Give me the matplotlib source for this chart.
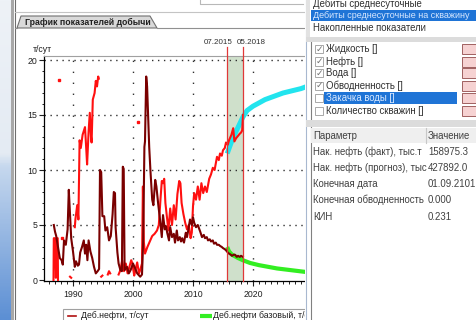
import numpy as np
import matplotlib
matplotlib.use("Agg")
import matplotlib.pyplot as plt
from matplotlib.patches import Rectangle, Polygon
from matplotlib.lines import Line2D
from matplotlib.colors import LinearSegmentedColormap

plt.rcParams['font.family'] = ['Liberation Sans', 'DejaVu Sans']

# ---------------- data ----------------
oil_years = [
    1986.8, 1987.0, 1987.2, 1987.5, 1987.8, 1988.1, 1988.3, 1988.5, 1988.8, 1989.1,
    1989.3, 1989.5, 1989.7, 1990.0, 1990.3, 1990.5, 1990.8, 1991.0, 1991.2, 1991.5,
    1991.8, 1992.0, 1992.2, 1992.4, 1992.6, 1992.9, 1993.2, 1993.5, 1993.8, 1994.1,
    1994.35, 1994.5, 1994.7, 1994.9, 1995.2, 1995.4, 1995.7, 1996.0, 1996.3, 1996.6,
    1996.8, 1997.0, 1997.1, 1997.4, 1997.6, 1997.9, 1998.15, 1998.3, 1998.45, 1998.6,
    1999.0, 1999.3, 1999.6, 2000.0, 2000.4, 2000.7, 2001.2, 2001.5, 2001.7, 2001.9,
    2002.0, 2002.2, 2002.35, 2002.7, 2002.9, 2003.2, 2003.4, 2003.7, 2003.9, 2004.2,
    2004.5, 2004.8, 2005.0, 2005.3, 2005.5, 2005.7, 2006.0, 2006.2, 2006.5, 2006.8,
    2007.0, 2007.3, 2007.5, 2007.8, 2008.0, 2008.2, 2008.5, 2008.8, 2009.0, 2009.2,
    2009.5, 2009.8, 2010.0, 2010.2, 2010.5, 2010.8, 2011.2, 2011.5, 2011.8, 2012.0,
    2012.3, 2012.5, 2012.8, 2013.0, 2013.3, 2013.5, 2013.8, 2014.0, 2014.3, 2014.5,
    2014.8, 2015.0, 2015.3, 2015.5, 2015.8, 2016.0, 2016.3, 2016.5, 2016.8, 2017.0,
    2017.3, 2017.5, 2017.8, 2018.0, 2018.3]
oil_rate = [
    5.0, 4.4, 4.0, 3.0, 2.0, 1.8, 1.4, 3.6, 3.2, 4.6,
    8.2, 6.0, 3.8, 2.6, 1.2, 1.7, 1.3, 1.4, 2.5, 3.0,
    3.6, 2.4, 3.2, 1.8, 3.6, 2.6, 2.0, 1.2, 0.6, 0.8,
    1.0, 10.0, 9.8, 5.8, 5.8, 4.5, 4.8, 3.6, 4.0, 6.0,
    8.0, 7.9, 4.8, 2.5, 1.5, 0.9, 0.8, 10.3, 10.1, 0.9,
    1.2, 0.6, 0.9, 1.5, 1.0, 0.6, 0.3, 0.5, 3.6, 12.1,
    12.6, 18.5, 17.6, 12.1, 10.0, 7.3, 6.8, 9.1, 8.5, 6.9,
    5.5, 3.9, 5.9, 4.6, 4.9, 4.3, 3.6, 4.8, 3.9, 4.2,
    3.4, 4.5, 3.6, 3.9, 3.5, 3.8, 3.4, 4.3, 3.9, 4.5,
    5.5, 5.0, 5.7, 5.2, 4.8, 5.0, 4.4, 3.9, 4.1, 3.8,
    3.9, 3.6, 3.7, 3.5, 3.6, 3.3, 3.4, 3.2, 3.2, 3.1,
    3.0, 2.9, 2.8, 2.7, 2.5, 2.4, 2.3, 2.2, 2.3, 2.3,
    2.1, 2.2, 2.1, 2.2, 2.1]

nan = np.nan
liq_years = [
    1986.75, 1986.8, 1987.0, 1987.15, 1987.3, 1987.45, 1987.5, 1988.0, 1989.5, 1989.7,
    1989.9, 1990.3, 1990.4, 1990.7, 1990.9, 1991.1, 1991.3, 1991.6, 1992.0, 1992.2,
    1992.35, 1992.6, 1992.8, 1993.0, 1993.1, 1993.3, 1993.6, 1993.8, 1994.0, 1994.2,
    1994.3, 1994.5, 1994.7, 1994.9, 1995.2, 1995.8, 1996.0, 1996.2, 1996.5, 1997.6,
    1997.9, 1998.2, 1998.5, 1998.8, 1999.1, 1999.4, 1999.7, 1999.9, 2000.2, 2000.4,
    2000.7, 2001.0, 2001.2, 2001.5, 2001.65, 2001.8, 2002.0, 2002.4, 2002.8, 2003.2,
    2003.6, 2004.0, 2004.3, 2004.6, 2004.8, 2005.0, 2005.2, 2005.4, 2005.6, 2005.9,
    2006.2, 2006.5, 2006.8, 2007.1, 2007.4, 2007.7, 2007.9, 2008.1, 2008.4, 2008.7,
    2009.0, 2009.3, 2009.6, 2009.8, 2010.0, 2010.2, 2010.5, 2010.8, 2011.1, 2011.4,
    2011.7, 2012.0, 2012.3, 2012.7, 2013.0, 2013.3, 2013.6, 2014.0, 2014.3, 2014.5,
    2014.8, 2015.0, 2015.3, 2015.5, 2015.8, 2016.0, 2016.4, 2016.7, 2016.9, 2017.2,
    2017.5, 2017.8, 2018.0, 2018.2, 2018.33]
liq_rate = [
    0.0, 3.8, 3.8, 0.2, 3.8, 3.8, 0.0, nan, 0.3, 0.2,
    nan, 4.8, 5.5, 6.8, 5.5, 12.7, 12.0, 13.2, 13.9, 12.0,
    10.5, 13.5, 15.2, 13.0, 12.5, 16.4, 17.0, 18.1, 17.6, 18.5,
    18.3, nan, 0.3, 0.4, nan, 0.5, 0.8, 0.6, nan, 0.5,
    0.9, 1.8, 0.8, 1.5, 0.6, 1.2, 1.8, 1.5, 0.4, 0.9,
    1.6, 0.6, 0.9, 1.5, 8.5, 3.5, 2.4, 3.0, 3.5, 4.0,
    4.2, 4.5, 5.0, 7.5, 9.0, 8.8, 9.2, 7.0, 6.0, 4.5,
    6.5, 5.0, 6.8, 5.5, 7.8, 9.0, 8.8, 7.0, 6.0, 5.2,
    4.6, 5.0, 3.8, 4.3, 6.7, 7.9, 7.3, 8.5, 7.3, 8.8,
    7.9, 8.5, 8.0, 9.2, 9.6, 10.2, 10.0, 11.2, 10.9, 11.5,
    11.3, 11.8, 12.0, 12.5, 12.3, 12.7, 13.2, 13.8, 12.6, 12.9,
    13.1, 13.3, 13.4, 13.6, 15.0]

liq_dot_years = [1987.7, 1988.2, 2000.8]
liq_dot_rate = [18.2, 3.8, 14.4]

fc_liq_years = [2015.7, 2016.3, 2017.0, 2017.7, 2018.3, 2019.0, 2020.0,
                2021.0, 2022.0, 2023.5, 2025.0, 2026.5, 2028.0, 2029.0]
fc_liq_rate = [11.5, 12.4, 13.3, 14.1, 14.8, 15.4, 15.8,
               16.1, 16.4, 16.7, 17.0, 17.2, 17.4, 17.6]
fc_oil_years = [2015.7, 2016.0, 2016.5, 2017.0, 2017.5, 2018.3, 2019.5,
                2021.0, 2022.5, 2024.0, 2025.5, 2027.0, 2028.5, 2029.0]
fc_oil_rate = [3.0, 2.6, 2.3, 2.15, 2.0, 1.8, 1.55,
               1.35, 1.2, 1.05, 0.95, 0.85, 0.75, 0.72]

x_major = [1990, 2000, 2010, 2020]
x_labels = ["1990", "2000", "2010", "2020"]
y_major = [0, 5, 10, 15, 20]
period_dates = [2015.67, 2018.33]
period_labels = ["07.2015", "05.2018"]

legend_labels = ["Деб.нефти, т/сут", "Деб.нефти базовый, т/сут"]
tab_title = "График показателей добычи"
y_unit = "т/сут"
mode_items = ["Дебиты среднесуточные", "Дебиты среднесуточные на скважину",
              "Накопленные показатели"]
check_items = ["Жидкость []", "Нефть []", "Вода []", "Обводненность []",
               "Закачка воды []", "Количество скважин []"]
check_state = [True, True, True, True, False, False]
table_header = ["Параметр", "Значение"]
table_names = ["Нак. нефть (факт), тыс.т", "Нак. нефть (прогноз), тыс",
               "Конечная дата", "Конечная обводненность", "КИН"]
table_values = ["158975.3", "427892.0", "01.09.2101", "0.000", "0.231"]

# ---------------- figure ----------------
W, H = 476, 320
fig = plt.figure(figsize=(W / 100, H / 100), dpi=100)
fig.patch.set_facecolor("white")


def fx(x):
    return x / W


def fy(y):
    return 1 - y / H


def frect(x0, y0, x1, y1, **kw):
    r = Rectangle((fx(x0), fy(y1)), fx(x1) - fx(x0), fy(y0) - fy(y1),
                  transform=fig.transFigure, **kw)
    fig.add_artist(r)
    return r


def fline(xs, ys, **kw):
    l = Line2D([fx(v) for v in xs], [fy(v) for v in ys],
               transform=fig.transFigure, **kw)
    fig.add_artist(l)
    return l


def ftext(x, y, s, **kw):
    kw.setdefault("va", "center")
    return fig.text(fx(x), fy(y), s, **kw)


# left desktop gradient
gax = fig.add_axes([0, 0, fx(11), 1])
grad = np.linspace(0, 1, 200)[:, None]
cmap = LinearSegmentedColormap.from_list(
    "g", [(0, "#eef2f7"), (0.48, "#e4ebf3"), (0.52, "#c6d8ee"), (1, "#5c8fd4")])
gax.imshow(grad, aspect="auto", cmap=cmap, extent=[0, 1, 0, 1], origin="upper")
gax.set_axis_off()

frect(11, 0, 14, 320, facecolor="#a8a8a8", edgecolor="none", zorder=1)
fline([14.5, 14.5], [0, 320], color="#6e6e6e", lw=0.8, zorder=1.1)

# top area and tab
fline([15, 305], [12, 12], color="#c4c4c4", lw=0.8, zorder=1.1)
fline([200, 200, 303], [0, 4, 4], color="#b8b8b8", lw=0.8, zorder=1.1)
tab = Polygon([(fx(17), fy(28)), (fx(21), fy(16)), (fx(150), fy(16)), (fx(157), fy(28))],
              closed=True, transform=fig.transFigure, facecolor="#d9d9d9",
              edgecolor="#707070", lw=0.8, zorder=1.2)
fig.add_artist(tab)
fline([157, 305], [28, 28], color="#909090", lw=0.8, zorder=1.2)
fline([15, 17], [28, 28], color="#909090", lw=0.8, zorder=1.2)
ftext(25, 22.5, tab_title, fontsize=6.3, fontweight="bold", color="#202020", zorder=1.3)

# ---------------- chart ----------------
x_left, x_right = 1990 + (44 - 73) / 6, 1990 + (305 - 73) / 6
ax = fig.add_axes([fx(44), fy(281), fx(305) - fx(44), (281 - 56) / H])
ax.set_xlim(x_left, x_right)
ax.set_ylim(-1 / 11, (280 - 56) / 11)
ax.set_facecolor("none")

ax.axvspan(period_dates[0], period_dates[1], color="#cfe0cb", zorder=0.5, lw=0)

for xv in x_major:
    ax.axvline(xv, color="#303030", lw=1.0, dashes=(1.0, 6.9), zorder=0.8)
for yv in y_major[1:]:
    ax.axhline(yv, color="#303030", lw=1.0, dashes=(1.0, 3.3), zorder=0.8)

ax.plot(liq_years, liq_rate, color="#ff1010", lw=1.5, zorder=3)
ax.plot(liq_dot_years, liq_dot_rate, color="#ff1010", marker="s", ms=1.8,
        linestyle="none", zorder=3)
ax.plot(oil_years, oil_rate, color="#7a0000", lw=1.5, zorder=3.2)
ax.plot(fc_liq_years, fc_liq_rate, color="#22e4ee", lw=3.6,
        solid_capstyle="butt", zorder=2.5)
ax.plot(fc_oil_years, fc_oil_rate, color="#33ee22", lw=3.0,
        solid_capstyle="butt", zorder=2.5)

ext = (281 - 47) / 225
for d in period_dates:
    ax.axvline(d, ymin=0, ymax=ext, color="#e03838", lw=0.9, clip_on=False, zorder=4)
ax.text(period_dates[0] + 0.95, (281 - 42) / 225, period_labels[0],
        transform=ax.get_xaxis_transform(), ha="right", va="center",
        fontsize=5.8, color="#303030")
ax.text(period_dates[1] - 1.05, (281 - 42) / 225, period_labels[1],
        transform=ax.get_xaxis_transform(), ha="left", va="center",
        fontsize=5.8, color="#303030")

ax.set_xticks(x_major)
ax.set_xticklabels(x_labels)
ax.set_xticks(np.arange(1986, 2029), minor=True)
ax.set_yticks(y_major)
ax.set_yticks(np.arange(0, 21), minor=True)
ax.tick_params(axis="both", which="major", direction="out", length=3.5, width=0.8,
               labelsize=6.3, pad=1.5, colors="#202020")
ax.tick_params(axis="both", which="minor", direction="out", length=1.8, width=0.7,
               colors="#202020")
ax.tick_params(axis="x", which="major", pad=3)
ax.spines["right"].set_visible(False)
ax.spines["top"].set_color("#a0a0a0")
ax.spines["top"].set_linewidth(0.8)
ax.spines["left"].set_linewidth(0.9)
ax.spines["bottom"].set_linewidth(0.9)

ftext(33, 50, y_unit, fontsize=6.3, color="#202020")

# legend box
frect(63, 309, 330, 330, facecolor="white", edgecolor="#a0a0a0", lw=0.8, zorder=3)
fline([68, 76], [316, 316], color="#b01010", lw=1.2, zorder=3.5)
ftext(81, 316, legend_labels[0], fontsize=6.3, color="#202020", zorder=3.5)
fline([200, 212], [316, 316], color="#33ee22", lw=3.0, zorder=3.5, solid_capstyle="butt")
ftext(213, 316, legend_labels[1], fontsize=6.3, color="#202020", zorder=3.5)

# ---------------- right panel ----------------
PFS = 6.9
frect(305, 0, 476, 320, facecolor="white", edgecolor="none", zorder=5)
fline([305.5, 305.5], [0, 320], color="#a8b8d0", lw=0.8, zorder=5.1)
frect(306, 0, 310, 40, facecolor="#e2e2e2", edgecolor="none", zorder=5.1)
fline([310.5, 310.5], [40, 320], color="#808080", lw=0.8, zorder=5.2)

# top list
frect(311, 10, 476, 21, facecolor="#1f74d6", edgecolor="none", zorder=5.2)
ftext(313, 4, mode_items[0], fontsize=PFS, color="#303030", zorder=5.3)
ftext(313, 15.5, mode_items[1], fontsize=6.5, color="#d8e8ff", zorder=5.3)
ftext(313, 28, mode_items[2], fontsize=PFS, color="#303030", zorder=5.3)
frect(306, 37, 476, 42, facecolor="#dcdcdc", edgecolor="none", zorder=5.2)

# check list
rows_y = [49, 61.5, 73, 85.5, 98, 110.5]
for i, (lab, chk, yy) in enumerate(zip(check_items, check_state, rows_y)):
    if i == 4:
        frect(324, yy - 5.5, 457, yy + 5.5, facecolor="#1f74d6", edgecolor="none", zorder=5.2)
        col = "#d8e8ff"
    else:
        col = "#303030"
    frect(315, yy - 4, 323, yy + 4, facecolor="white", edgecolor="#9a9a9a", lw=0.6, zorder=5.3)
    if chk:
        ftext(319, yy, "✓", fontsize=6.5, family="DejaVu Sans", color="#707070",
              ha="center", zorder=5.4)
    ftext(325.5, yy, lab, fontsize=PFS, color=col, zorder=5.4)
    frect(462, yy - 5, 478, yy + 5, facecolor="#f6d2d2", edgecolor="#a06060", lw=0.7, zorder=5.3)

# table
frect(306, 120, 476, 127, facecolor="#dcdcdc", edgecolor="none", zorder=5.2)
frect(311, 128, 476, 143, facecolor="#efefef", edgecolor="none", zorder=5.2)
fline([426, 426], [128, 143], color="#c8c8c8", lw=0.8, zorder=5.3)
ftext(313, 136, table_header[0], fontsize=PFS, color="#404040", zorder=5.4)
ftext(428, 136, table_header[1], fontsize=PFS, color="#404040", zorder=5.4)
for yy, n, v in zip([152, 168, 184, 200, 216.5], table_names, table_values):
    ftext(313, yy, n, fontsize=PFS, color="#404040", zorder=5.4)
    ftext(428, yy, v, fontsize=PFS, color="#404040", zorder=5.4)

fig.savefig("out.png", dpi=100, facecolor="white")
